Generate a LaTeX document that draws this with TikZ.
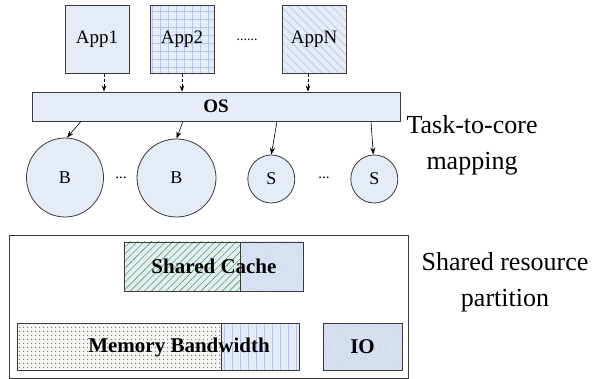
\documentclass[tikz,border=0pt]{standalone}
\usepackage{fontspec}
\setmainfont{Liberation Serif}
\usetikzlibrary{shapes.geometric,patterns.meta,arrows.meta,calc}
\definecolor{lb}{HTML}{E6ECF7}
\definecolor{edgec}{HTML}{3A3A3A}
\definecolor{gridc}{HTML}{B3C6E6}
\definecolor{hgreen}{HTML}{4FAA4F}
\definecolor{chk}{HTML}{C6D5EE}
\definecolor{dotc}{HTML}{3C3CC4}
\definecolor{dotbg}{HTML}{F5F6F2}
\definecolor{iofill}{HTML}{C8D5EA}
\tikzset{
  box/.style={draw=edgec, line width=0.8pt, inner sep=0pt, rectangle},
  appbox/.style={box, fill=lb, minimum width=64pt, minimum height=68pt, font=\fontsize{19}{22}\selectfont},
  core/.style={draw=edgec, line width=0.8pt, ellipse, fill=lb, inner sep=0pt, font=\fontsize{18}{20}\selectfont},
  dasharrow/.style={draw=black, line width=0.6pt, dash pattern=on 3pt off 2pt, -{Stealth[length=6pt,width=4.5pt]}},
  solidarrow/.style={draw=black, line width=0.6pt, -{Stealth[length=7pt,width=5pt]}},
  bigtxt/.style={font=\fontsize{26}{36}\selectfont, align=center},
  boldtxt/.style={font=\fontsize{21}{24}\selectfont\bfseries},
}
\begin{document}
\begin{tikzpicture}[x=1pt,y=-1pt]
\useasboundingbox (0,0) rectangle (594,379);

% Applications
\node[appbox] (app1) at (97,39.5) {App1};
\node[appbox, preaction={fill=lb}, pattern={Hatch[angle=0,distance=8pt,line width=0.7pt]}, pattern color=gridc] (app2) at (182,39.5) {App2};
\node[appbox, preaction={fill=lb}, pattern={Lines[angle=-45,distance=6pt,line width=0.6pt]}, pattern color=gridc] (appn) at (314,39.5) {AppN};
\node[font=\fontsize{14}{16}\selectfont, inner sep=0pt] (adots) at (247,40) {......};

% OS
\node[box, fill=lb, minimum width=368pt, minimum height=29pt, font=\fontsize{19}{22}\selectfont\bfseries] (os) at (216,106.5) {OS};

\draw[dasharrow] ([xshift=7pt]app1.south) -- ([xshift=7pt]app1.south |- os.north);
\draw[dasharrow] (app2.south) -- (app2.south |- os.north);
\draw[dasharrow] ([xshift=-6pt]appn.south) -- ([xshift=-6pt]appn.south |- os.north);

% Cores
\node[core, minimum width=77pt, minimum height=79pt] (b1) at (65,177.5) {B};
\node[core, minimum width=79pt, minimum height=78pt] (b2) at (176.5,178) {B};
\node[core, minimum width=47pt, minimum height=48pt] (s1) at (271.3,179) {S};
\node[core, minimum width=47pt, minimum height=48pt] (s2) at (374.3,179) {S};
\node[font=\fontsize{15}{16}\selectfont, inner sep=0pt] (bdots) at (121,178) {...};
\node[font=\fontsize{15}{16}\selectfont, inner sep=0pt] (sdots) at (324,178) {...};

\draw[solidarrow] ([xshift=-135pt]os.south) -- ([xshift=2pt]b1.north);
\draw[solidarrow] ([xshift=-33pt]os.south) -- (b2.north);
\draw[solidarrow] ([xshift=61pt]os.south) -- (s1.north);
\draw[solidarrow] ([xshift=155pt]os.south) -- ([xshift=-1pt]s2.north);

\node[bigtxt] (map) at (472,145) {Task-to-core\\mapping};

% Shared resources
\node[draw=edgec, line width=0.8pt, minimum width=399pt, minimum height=143pt, inner sep=0pt] (outer) at (208.5,306.5) {};

\node[box, preaction={fill=lb}, pattern={Lines[angle=45,distance=5pt,line width=0.6pt]}, pattern color=hgreen, minimum width=116pt, minimum height=49pt] (scl) at (182,266.5) {};
\node[box, preaction={fill=lb}, pattern={Hatch[angle=45,distance=2.2pt,line width=0.4pt]}, pattern color=chk, minimum width=63pt, minimum height=49pt] (scr) at (271.5,266.5) {};
\node[boldtxt] (sct) at (214,266) {Shared Cache};

\node[box, preaction={fill=dotbg}, pattern={Dots[distance=4pt,radius=0.75pt]}, pattern color=dotc!80, minimum width=204pt, minimum height=47pt] (mbl) at (119,346.5) {};
\node[box, preaction={fill=lb}, pattern={Lines[angle=90,distance=8pt,line width=0.6pt]}, pattern color=gridc, minimum width=78pt, minimum height=47pt] (mbr) at (260,346.5) {};
\node[boldtxt] (mbt) at (179,347) {Memory Bandwidth};

\node[box, preaction={fill=iofill}, pattern={Hatch[angle=45,distance=2.2pt,line width=0.4pt]}, pattern color=lb, minimum width=79pt, minimum height=47pt] (io) at (362.5,346.5) {};
\node[boldtxt] (iot) at (362.5,347) {IO};

\node[bigtxt] (part) at (505,282) {Shared resource\\partition};
\end{tikzpicture}
\end{document}
